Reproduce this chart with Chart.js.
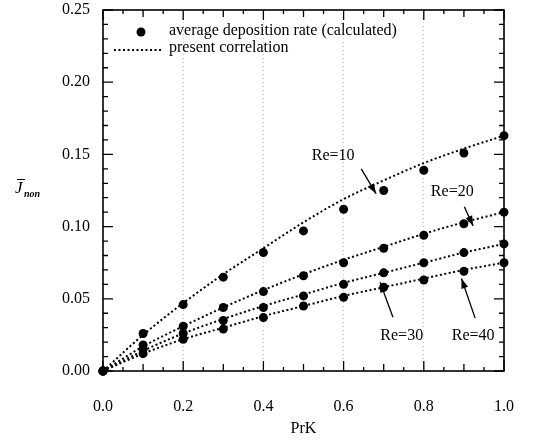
<!DOCTYPE html>
<html>
<head>
<meta charset="utf-8">
<script src="https://cdn.jsdelivr.net/npm/chart.js@4"></script>
<style>
  body { margin: 0; background: #fff; }
  canvas { display: block; }
</style>
</head>
<body>
<canvas id="depChart" width="546" height="440"></canvas>
<script>
// PrK values (x axis)
const prk = [0.0, 0.1, 0.2, 0.3, 0.4, 0.5, 0.6, 0.7, 0.8, 0.9, 1.0];

// average deposition rate (calculated)
const re10Calc = [0, 0.026, 0.046, 0.065, 0.082, 0.097, 0.112, 0.125, 0.139, 0.151, 0.163];
const re20Calc = [0, 0.018, 0.031, 0.044, 0.055, 0.066, 0.075, 0.085, 0.094, 0.102, 0.110];
const re30Calc = [0, 0.015, 0.026, 0.035, 0.044, 0.052, 0.060, 0.068, 0.075, 0.082, 0.088];
const re40Calc = [0, 0.012, 0.022, 0.029, 0.037, 0.045, 0.051, 0.058, 0.063, 0.069, 0.075];

// present correlation (dotted curves)
const re10Fit = [0, 0.025, 0.047, 0.067, 0.085, 0.103, 0.119, 0.132, 0.144, 0.154, 0.163];
const re20Fit = [0, 0.017, 0.031, 0.044, 0.056, 0.067, 0.077, 0.086, 0.095, 0.103, 0.110];
const re30Fit = [0, 0.014, 0.026, 0.036, 0.045, 0.053, 0.061, 0.068, 0.075, 0.082, 0.088];
const re40Fit = [0, 0.012, 0.022, 0.030, 0.038, 0.045, 0.052, 0.058, 0.064, 0.070, 0.075];

const yTicks = [0.00, 0.05, 0.10, 0.15, 0.20, 0.25];
const xTicks = [0.0, 0.2, 0.4, 0.6, 0.8, 1.0];

const SERIF = '"Liberation Serif", "DejaVu Serif", serif';
const DOTS = [2, 2.5];

const toPts = (ys) => prk.map((x, i) => ({ x: x, y: ys[i] }));

const calcSet = (ys) => ({
    data: toPts(ys),
    showLine: false,
    pointRadius: 4.5,
    pointBackgroundColor: '#000',
    pointBorderWidth: 0,
    clip: false
});
const fitSet = (ys) => ({
    data: toPts(ys),
    showLine: true,
    borderColor: '#000',
    borderWidth: 2,
    borderDash: DOTS,
    pointRadius: 0,
    tension: 0.4,
    cubicInterpolationMode: 'monotone',
    clip: false
});

// frame, inward ticks, legend, labels and arrows
const decorations = {
    id: 'decorations',
    afterDraw(chart) {
        const ctx = chart.ctx;
        const ca = chart.chartArea;
        const xs = chart.scales.x, ys = chart.scales.y;
        ctx.save();
        ctx.strokeStyle = '#000';
        ctx.fillStyle = '#000';

        // frame
        ctx.lineWidth = 1.6;
        ctx.strokeRect(ca.left, ca.top, ca.right - ca.left, ca.bottom - ca.top);

        // ticks on all four sides
        ctx.lineWidth = 1.3;
        ctx.beginPath();
        for (let i = 0; i <= 20; i++) {
            const px = xs.getPixelForValue(i * 0.05);
            const len = i % 4 === 0 ? 10 : (i % 2 === 0 ? 7 : 4);
            ctx.moveTo(px, ca.bottom); ctx.lineTo(px, ca.bottom - len);
            ctx.moveTo(px, ca.top); ctx.lineTo(px, ca.top + len);
        }
        for (let i = 0; i <= 25; i++) {
            const py = ys.getPixelForValue(i * 0.01);
            const len = i % 5 === 0 ? 10 : 5;
            ctx.moveTo(ca.left, py); ctx.lineTo(ca.left + len, py);
            ctx.moveTo(ca.right, py); ctx.lineTo(ca.right - len, py);
        }
        ctx.stroke();

        // legend
        ctx.font = '16px ' + SERIF;
        ctx.textBaseline = 'middle';
        ctx.textAlign = 'left';
        ctx.beginPath();
        ctx.arc(141, 32, 4.5, 0, Math.PI * 2);
        ctx.fill();
        ctx.fillText('average deposition rate (calculated)', 169, 31);
        ctx.lineWidth = 2;
        ctx.setLineDash(DOTS);
        ctx.beginPath();
        ctx.moveTo(114, 50); ctx.lineTo(163, 50);
        ctx.stroke();
        ctx.setLineDash([]);
        ctx.fillText('present correlation', 169, 48);

        // Re labels with arrows (positions in data units)
        const notes = [
            { t: 'Re=10', lx: 0.574, ly: 0.149, ax: 0.644, ay: 0.140, bx: 0.681, by: 0.1228 },
            { t: 'Re=20', lx: 0.871, ly: 0.124, ax: 0.901, ay: 0.1138, bx: 0.923, by: 0.1005 },
            { t: 'Re=30', lx: 0.745, ly: 0.0241, ax: 0.723, ay: 0.0372, bx: 0.691, by: 0.0614 },
            { t: 'Re=40', lx: 0.923, ly: 0.0241, ax: 0.928, ay: 0.0366, bx: 0.894, by: 0.0641 }
        ];
        ctx.textAlign = 'center';
        ctx.lineWidth = 1.3;
        notes.forEach(n => {
            ctx.fillText(n.t, xs.getPixelForValue(n.lx), ys.getPixelForValue(n.ly));
            const x1 = xs.getPixelForValue(n.ax), y1 = ys.getPixelForValue(n.ay);
            const x2 = xs.getPixelForValue(n.bx), y2 = ys.getPixelForValue(n.by);
            const ang = Math.atan2(y2 - y1, x2 - x1);
            ctx.beginPath();
            ctx.moveTo(x1, y1); ctx.lineTo(x2, y2);
            ctx.stroke();
            ctx.beginPath();
            ctx.moveTo(x2, y2);
            ctx.lineTo(x2 - 10 * Math.cos(ang) + 3.5 * Math.sin(ang), y2 - 10 * Math.sin(ang) - 3.5 * Math.cos(ang));
            ctx.lineTo(x2 - 10 * Math.cos(ang) - 3.5 * Math.sin(ang), y2 - 10 * Math.sin(ang) + 3.5 * Math.cos(ang));
            ctx.closePath();
            ctx.fill();
        });

        // y axis title: J-bar with subscript "non"
        ctx.textAlign = 'left';
        ctx.textBaseline = 'alphabetic';
        ctx.font = 'italic 17px ' + SERIF;
        ctx.fillText('J', 15, 193);
        ctx.lineWidth = 1;
        ctx.beginPath();
        ctx.moveTo(17, 179.5); ctx.lineTo(25, 179.5);
        ctx.stroke();
        ctx.font = 'italic bold 10px ' + SERIF;
        ctx.fillText('non', 24, 197);

        ctx.restore();
    }
};

new Chart(document.getElementById('depChart'), {
    type: 'scatter',
    data: {
        datasets: [
            calcSet(re10Calc), calcSet(re20Calc), calcSet(re30Calc), calcSet(re40Calc),
            fitSet(re10Fit), fitSet(re20Fit), fitSet(re30Fit), fitSet(re40Fit)
        ]
    },
    options: {
        responsive: false,
        animation: false,
        layout: { padding: { top: 10, right: 42, left: 0, bottom: 0 } },
        plugins: {
            legend: { display: false },
            tooltip: { enabled: false }
        },
        scales: {
            x: {
                type: 'linear',
                min: 0,
                max: 1,
                afterBuildTicks: (scale) => { scale.ticks = xTicks.map(v => ({ value: v })); },
                afterFit: (scale) => {
                    scale.height = 69;
                    scale.paddingLeft = 0;
                    scale.paddingRight = 0;
                },
                ticks: {
                    color: '#000',
                    padding: 26,
                    font: { family: SERIF, size: 16 },
                    callback: (v) => Number(v).toFixed(1)
                },
                grid: {
                    drawTicks: false,
                    lineWidth: 1,
                    color: (c) => (c.tick && c.tick.value > 0 && c.tick.value < 1) ? '#c4c4c4' : 'rgba(0,0,0,0)'
                },
                border: { display: false, dash: [1, 3] },
                title: {
                    display: true,
                    text: 'PrK',
                    color: '#000',
                    font: { family: SERIF, size: 16 },
                    padding: { top: 0, bottom: 2 }
                }
            },
            y: {
                min: 0,
                max: 0.25,
                afterBuildTicks: (scale) => { scale.ticks = yTicks.map(v => ({ value: v })); },
                afterFit: (scale) => {
                    scale.width = 103;
                    scale.paddingTop = 0;
                    scale.paddingBottom = 0;
                },
                ticks: {
                    color: '#000',
                    padding: 13,
                    font: { family: SERIF, size: 16 },
                    callback: (v) => Number(v).toFixed(2)
                },
                grid: { display: false, drawTicks: false },
                border: { display: false }
            }
        }
    },
    plugins: [decorations]
});
</script>
</body>
</html>
